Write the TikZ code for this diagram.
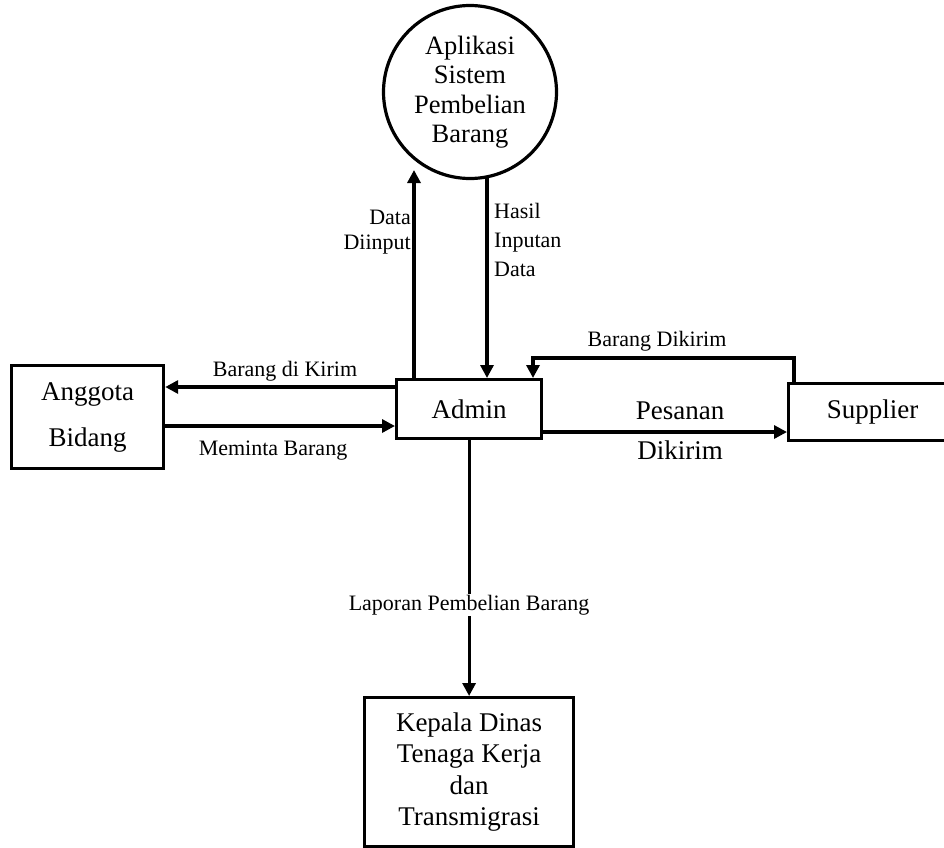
\documentclass[tikz,border=0pt]{standalone}
\usepackage{fontspec}
\setmainfont{Liberation Serif}
\usetikzlibrary{arrows.meta}
\begin{document}
\begin{tikzpicture}[x=1pt,y=-1pt,
  box/.style={draw,line width=3.2pt,rectangle,anchor=north west,inner sep=0pt,align=center,font=\fontsize{27}{31.5}\selectfont},
  proc/.style={draw,line width=3.2pt,circle,inner sep=0pt,align=center,font=\fontsize{26.5}{29.5}\selectfont},
  arr/.style={line width=3.2pt,-{Triangle[length=13pt,width=13pt]}},
  lbl/.style={font=\fontsize{22}{25}\selectfont,inner sep=0pt},
  big/.style={font=\fontsize{27}{40}\selectfont,inner sep=0pt,align=center}]
\useasboundingbox (0,0) rectangle (944,847);
% nodes
\node[proc,minimum size=173pt] (circ) at (470,92) {Aplikasi\\Sistem\\Pembelian\\Barang};
\node[box,minimum width=152pt,minimum height=103pt,font=\fontsize{27}{46}\selectfont] (ang) at (10,364) {Anggota\\Bidang};
\node[box,minimum width=145pt,minimum height=59pt] (adm) at (395,378) {Admin};
\node[box,minimum width=168pt,minimum height=57pt] (sup) at (787,382) {Supplier};
\node[box,minimum width=209pt,minimum height=149pt] (kep) at (363,696) {Kepala Dinas\\Tenaga Kerja\\dan\\Transmigrasi};
% helper coordinates
\coordinate (ddtop) at (414,170);
\coordinate (hitop) at (487,177);
\coordinate (r1) at (0,387);
\coordinate (r2) at (0,426);
\coordinate (r3) at (0,432);
\coordinate (bd1) at (794,358);
\coordinate (bd2) at (533,358);
% connectors
\draw[arr] (ddtop |- adm.north) -- (ddtop);
\draw[arr] (hitop) -- (hitop |- adm.north);
\draw[arr] (adm.west |- r1) -- (ang.east |- r1);
\draw[arr] (ang.east |- r2) -- (adm.west |- r2);
\draw[arr] (adm.east |- r3) -- (sup.west |- r3);
\draw[arr] (bd1 |- sup.north) -- (bd1) -- (bd2) -- (bd2 |- adm.north);
\draw[arr] (adm.south) -- node[pos=0.645,fill=white,lbl,inner sep=1pt] (lap) {Laporan Pembelian Barang} (kep.north);
% labels
\node[lbl,anchor=east,align=right,font=\fontsize{22}{24.5}\selectfont] (ldd) at (411,232) {Data\\Diinput};
\node[lbl,anchor=west,align=left,font=\fontsize{22}{29}\selectfont] (lhi) at (494,240) {Hasil\\Inputan\\Data};
\node[lbl] (lbk) at (285,371) {Barang di Kirim};
\node[lbl] (lmb) at (273,451) {Meminta Barang};
\node[lbl] (lbd) at (657,341) {Barang Dikirim};
\node[big] (lpd) at (680,431) {Pesanan\\Dikirim};
\end{tikzpicture}
\end{document}
